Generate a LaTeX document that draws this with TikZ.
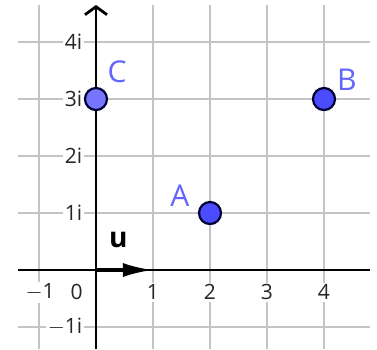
\documentclass[tikz,border=0pt]{standalone}
\usepackage{fontspec}
\setmainfont{Open Sans}
\usepackage{tikz}
\usetikzlibrary{arrows.meta,positioning}

\definecolor{gridgray}{HTML}{C4C4C4}
\definecolor{ptblue}{HTML}{4B4BFF}
\definecolor{ptlight}{HTML}{7575FF}
\definecolor{lblblue}{HTML}{6464FF}

\begin{document}
\begin{tikzpicture}[
        x=1cm, y=1cm,
        >=Latex,
        gridline/.style={draw=gridgray, line width=1.3pt},
        axis/.style={draw=black, line width=1.4pt},
        tick/.style={fill=white, inner sep=1pt, text=black!85, font=\fontsize{10.5}{12}\selectfont},
        pt/.style={circle, draw=black!80!blue, line width=1.1pt, fill=ptblue, minimum size=11pt, inner sep=0pt},
        ptname/.style={text=lblblue, font=\fontsize{15}{17}\selectfont, inner sep=0pt},
        vec/.style={draw=black, line width=1.7pt, -{Latex[length=15pt,width=7pt]}}
    ]
        \useasboundingbox (-1.684,-1.386) rectangle (4.930,4.737);
        \fill[white] (-1.684,-1.386) rectangle (4.930,4.737);

        \draw[gridline] (-1.368,-1.386) grid (4.807,4.649);

        \coordinate (xmin) at (-1.368,0);
        \coordinate (xmax) at (4.807,0);
        \coordinate (ymin) at (0,-1.386);
        \coordinate (ymax) at (0,4.65);
        \coordinate (O) at (0,0);
        \coordinate (U) at (1,0);

        \node[tick] (xm1) at (-0.98,-0.39) {$-$1};
        \node[tick] (x0) at (-0.34,-0.39) {0};
        \node[tick] (x1) at (1,-0.39) {1};
        \node[tick] (x2) at (2,-0.39) {2};
        \node[tick] (x3) at (3,-0.39) {3};
        \node[tick] (x4) at (4,-0.39) {4};

        \node[tick, anchor=east] (y4) at (-0.2,4) {4i};
        \node[tick, anchor=east] (y3) at (-0.2,3) {3i};
        \node[tick, anchor=east] (y2) at (-0.2,2) {2i};
        \node[tick, anchor=east] (y1) at (-0.2,1) {1i};
        \node[tick, anchor=east] (ym1) at (-0.2,-1) {$-$1i};

        \draw[axis] (xmin) -- (xmax);
        \draw[axis, -{Straight Barb[length=4pt,width=11pt]}] (ymin) -- (ymax);

        \draw[vec] (O) -- (U);
        \node[font=\bfseries\fontsize{14}{16}\selectfont, inner sep=0pt] (u) at (0.39,0.53) {u};

        \node[pt] (A) at (2,1) {};
        \node[pt] (B) at (4,3) {};
        \node[pt, fill=ptlight] (C) at (0,3) {};

        \node[ptname] (Alab) at (1.47,1.3) {A};
        \node[ptname] (Blab) at (4.4,3.33) {B};
        \node[ptname] (Clab) at (0.37,3.47) {C};
    \end{tikzpicture}
\end{document}
